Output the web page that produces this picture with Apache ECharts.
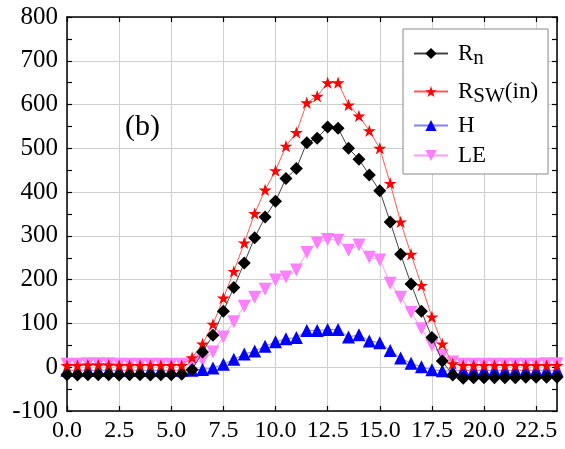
<!DOCTYPE html>
<html>
<head>
<meta charset="utf-8">
<script src="https://cdn.jsdelivr.net/npm/echarts@6/dist/echarts.min.js"></script>
<style>
  html, body { margin: 0; padding: 0; background: #fff; }
  #chart { width: 565px; height: 449px; }
</style>
</head>
<body>
<div id="chart"></div>
<script>
// half-hourly time of day (h)
const hours = [0, 0.5, 1, 1.5, 2, 2.5, 3, 3.5, 4, 4.5, 5, 5.5,
  6, 6.5, 7, 7.5, 8, 8.5, 9, 9.5, 10, 10.5, 11, 11.5,
  12, 12.5, 13, 13.5, 14, 14.5, 15, 15.5, 16, 16.5, 17, 17.5,
  18, 18.5, 19, 19.5, 20, 20.5, 21, 21.5, 22, 22.5, 23, 23.5];

const rn = [-17, -18, -17, -17, -17, -18, -17, -17, -18, -17, -17, -16,
  -6, 35, 73, 128, 182, 238, 296, 343, 379, 431, 454, 513,
  523, 549, 546, 500, 475, 439, 403, 332, 258, 190, 128, 68,
  14, -18, -25, -24, -24, -24, -24, -24, -23, -23, -23, -23];

const rsw = [4, 4, 5, 5, 5, 4, 4, 4, 4, 4, 4, 4,
  22, 53, 98, 158, 219, 284, 351, 405, 449, 505, 536, 604,
  619, 650, 650, 599, 574, 540, 500, 420, 332, 258, 187, 115,
  53, 8, 4, 4, 4, 4, 4, 4, 4, 4, 4, 4];

const h = [-7, -7, -7, -7, -7, -7, -7, -7, -7, -7, -7, -7,
  -7, -5, -2, 7, 18, 30, 37, 48, 58, 65, 68, 84,
  84, 86, 86, 69, 74, 60, 56, 38, 21, 9, 1, -6,
  -8, -9, -7, -7, -7, -7, -7, -7, -7, -7, -7, -7];

const le = [7, 7, 8, 8, 8, 7, 7, 7, 7, 7, 7, 7,
  7, 16, 35, 69, 104, 139, 160, 178, 199, 206, 222, 262,
  284, 292, 290, 267, 279, 251, 245, 192, 160, 125, 88, 50,
  27, 12, 7, 7, 7, 7, 7, 7, 7, 7, 8, 8];

const xTicks = { min: 0, max: 23.5, step: 2.5 };
const yTicks = { min: -100, max: 800, step: 100 };

const starPath = 'path://M100,0L122.45,69.1L195.1,69.1L136.3,111.8L158.8,180.9L100,138.2L41.2,180.9L63.7,111.8L4.9,69.1L77.55,69.1Z';

const pair = (vals) => hours.map((x, i) => [x, vals[i]]);

const chart = echarts.init(document.getElementById('chart'));
const serif = 'Liberation Serif';

const frameAxis = {
    axisLine: { show: true, onZero: false, lineStyle: { color: '#000', width: 1.5 } },
    axisTick: { show: true, inside: true, length: 5, lineStyle: { color: '#000', width: 1.2 } },
};

const option = {
    animation: false,
    backgroundColor: '#fff',
    grid: { left: 67, right: 8, top: 17, bottom: 38 },
    graphic: [
        {
            type: 'text',
            left: 125,
            top: 112,
            style: { text: '(b)', fontFamily: serif, fontSize: 30, fill: '#000' },
        },
    ],
    legend: {
        orient: 'vertical',
        left: 403,
        top: 29,
        padding: [9, 10, 7, 10],
        itemGap: 7,
        itemWidth: 34,
        itemHeight: 14,
        borderColor: '#888',
        borderWidth: 1,
        backgroundColor: '#fff',
        data: ['Rn', 'Rsw', 'H', 'LE'],
        formatter: (name) => {
            if (name === 'Rn') return '{a|R}{s|n}';
            if (name === 'Rsw') return '{a|R}{s|SW}{r|(in)}';
            return '{a|' + name + '}';
        },
        textStyle: {
            fontFamily: serif,
            rich: {
                a: { fontFamily: serif, fontSize: 23, lineHeight: 25, color: '#000', verticalAlign: 'middle', padding: [0, 0, 0, 5] },
                r: { fontFamily: serif, fontSize: 23, lineHeight: 25, color: '#000', verticalAlign: 'middle' },
                s: { fontFamily: serif, fontSize: 21, lineHeight: 21, color: '#000', padding: [10, 0, 0, 0] },
            },
        },
    },
    xAxis: [
        {
            type: 'value',
            min: xTicks.min,
            max: xTicks.max,
            interval: xTicks.step,
            position: 'bottom',
            ...frameAxis,
            axisLabel: {
                margin: 8,
                fontFamily: serif,
                fontSize: 24,
                color: '#000',
                showMaxLabel: false,
                formatter: (v) => v.toFixed(1),
            },
            splitLine: { show: true, lineStyle: { color: '#cfcfcf', width: 1 } },
        },
        {
            type: 'value',
            min: xTicks.min,
            max: xTicks.max,
            interval: xTicks.step,
            position: 'top',
            ...frameAxis,
            axisLabel: { show: false },
            splitLine: { show: false },
        },
    ],
    yAxis: [
        {
            type: 'value',
            min: yTicks.min,
            max: yTicks.max,
            interval: yTicks.step,
            position: 'left',
            ...frameAxis,
            minorTick: { show: true, splitNumber: 2, length: 5, lineStyle: { color: '#000', width: 1.2 } },
            axisLabel: { margin: 9, fontFamily: serif, fontSize: 25, color: '#000' },
            splitLine: { show: true, lineStyle: { color: '#cfcfcf', width: 1 } },
        },
        {
            type: 'value',
            min: yTicks.min,
            max: yTicks.max,
            interval: yTicks.step,
            position: 'right',
            ...frameAxis,
            minorTick: { show: true, splitNumber: 2, length: 5, lineStyle: { color: '#000', width: 1.2 } },
            axisLabel: { show: false },
            splitLine: { show: false },
        },
    ],
    series: [
        {
            name: 'LE',
            type: 'line',
            data: pair(le),
            symbol: 'triangle',
            symbolRotate: 180,
            symbolSize: 13,
            itemStyle: { color: '#ff80ff' },
            lineStyle: { color: '#ff9cff', width: 1 },
            z: 2,
        },
        {
            name: 'H',
            type: 'line',
            data: pair(h),
            symbol: 'triangle',
            symbolSize: 13,
            itemStyle: { color: '#0000ff' },
            lineStyle: { color: '#8080ff', width: 1 },
            z: 3,
        },
        {
            name: 'Rsw',
            type: 'line',
            data: pair(rsw),
            symbol: starPath,
            symbolKeepAspect: true,
            symbolSize: 13,
            itemStyle: { color: '#ff0000' },
            lineStyle: { color: '#ff5a5a', width: 1 },
            z: 4,
        },
        {
            name: 'Rn',
            type: 'line',
            data: pair(rn),
            symbol: 'diamond',
            symbolSize: 13,
            itemStyle: { color: '#000' },
            lineStyle: { color: '#444', width: 1 },
            z: 5,
        },
    ],
};

chart.setOption(option);
</script>
</body>
</html>
